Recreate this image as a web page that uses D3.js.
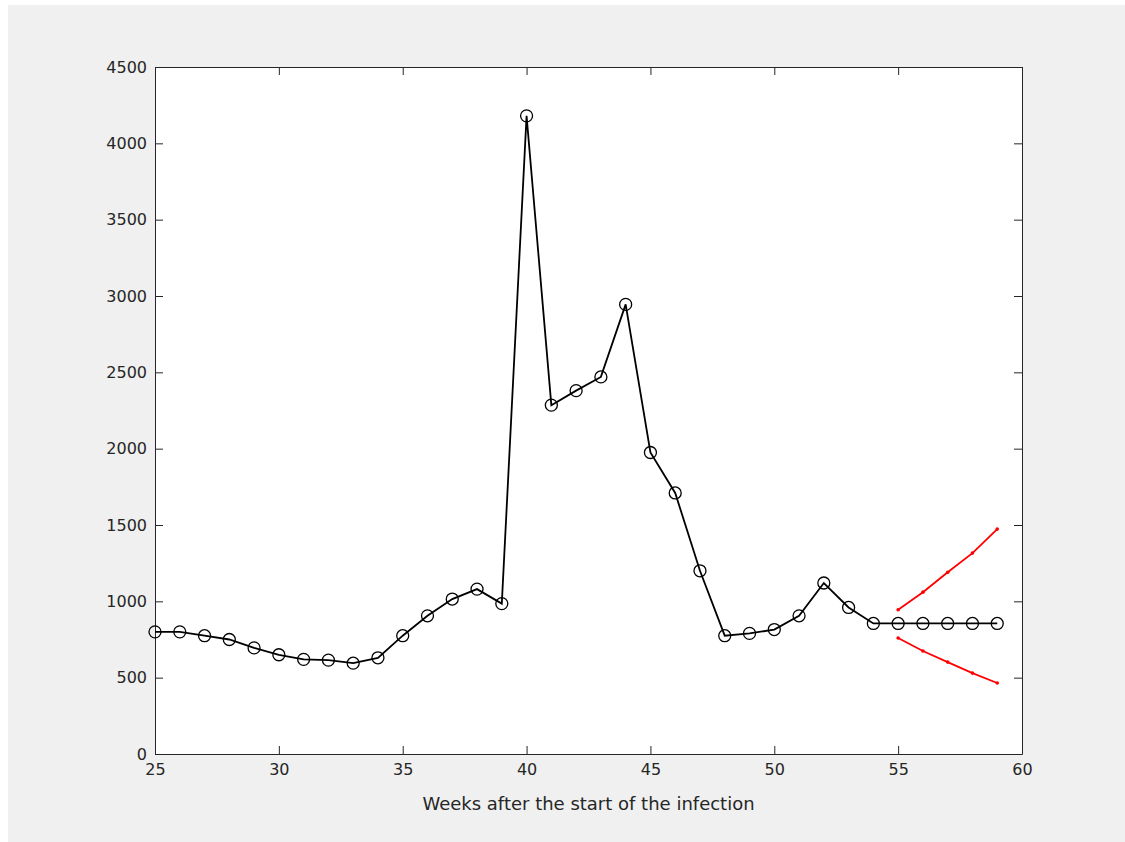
<!DOCTYPE html><html><head><script src="https://d3js.org/d3.v7.min.js"></script>
<style>body{margin:0;background:#fff}</style></head><body><script>
const weeks=[25,26,27,28,29,30,31,32,33,34,35,36,37,38,39,40,41,42,43,44,45,46,47,48,49,50,51,52,53,54,55,56,57,58,59];
const cases=[800,800,775,750,695,650,620,615,595,630,775,905,1015,1080,985,4180,2285,2380,2470,2945,1975,1710,1200,775,790,815,905,1120,960,855,855,855,855,855,855];
const fcWeeks=[55,56,57,58,59];
const upper=[945,1060,1190,1316,1473];
const lower=[760,675,602,530,465];
const xTicks=[25,30,35,40,45,50,55,60];
const yTicks=[0,500,1000,1500,2000,2500,3000,3500,4000,4500];
const W=1125,H=842,m={l:155,t:67,r:1022,b:754};
const svg=d3.select("body").append("svg").attr("width",W).attr("height",H);
svg.append("rect").attr("x",8).attr("y",5).attr("width",1117).attr("height",837).attr("fill","#f0f0f0");
svg.append("rect").attr("x",m.l).attr("y",m.t).attr("width",m.r-m.l).attr("height",m.b-m.t).attr("fill","#fff");
const x=d3.scaleLinear().domain([25,60]).range([m.l,m.r]);
const y=d3.scaleLinear().domain([0,4500]).range([m.b,m.t]);
const f=d3.format("d");
const ax=svg.append("g").attr("transform",`translate(0,${m.b})`).call(d3.axisBottom(x).tickValues(xTicks).tickFormat(f).tickSizeInner(-8).tickSizeOuter(0).tickPadding(10));
const ax2=svg.append("g").attr("transform",`translate(0,${m.t})`).call(d3.axisTop(x).tickValues(xTicks).tickSizeInner(-8).tickSizeOuter(0).tickFormat(""));
const ay=svg.append("g").attr("transform",`translate(${m.l},0)`).call(d3.axisLeft(y).tickValues(yTicks).tickFormat(f).tickSizeInner(-8).tickSizeOuter(0).tickPadding(8));
const ay2=svg.append("g").attr("transform",`translate(${m.r},0)`).call(d3.axisRight(y).tickValues(yTicks).tickSizeInner(-8).tickSizeOuter(0).tickFormat(""));
[ax,ax2,ay,ay2].forEach(g=>{g.attr("font-family","DejaVu Sans, sans-serif").attr("font-size",16);g.selectAll("path,line").attr("stroke","#262626");g.selectAll("text").attr("fill","#262626");});
svg.append("text").attr("x",(m.l+m.r)/2).attr("y",810).attr("text-anchor","middle").attr("fill","#262626").attr("font-family","DejaVu Sans, sans-serif").attr("font-size",18).text("Weeks after the start of the infection");
const line=d3.line().x(d=>x(d[0])).y(d=>y(d[1]));
svg.append("path").attr("d",line(weeks.map((w,i)=>[w,cases[i]]))).attr("fill","none").attr("stroke","#000").attr("stroke-width",1.8);
svg.selectAll("circle.c").data(weeks).enter().append("circle").attr("cx",d=>x(d)).attr("cy",(d,i)=>y(cases[i])).attr("r",6).attr("fill","none").attr("stroke","#000").attr("stroke-width",1.3);
[upper,lower].forEach(s=>{
 const pts=fcWeeks.map((w,i)=>[w,s[i]]);
 svg.append("path").attr("d",line(pts)).attr("fill","none").attr("stroke","#ff0000").attr("stroke-width",1.8);
 svg.selectAll(null).data(pts).enter().append("circle").attr("cx",d=>x(d[0])).attr("cy",d=>y(d[1])).attr("r",1.8).attr("fill","#ff0000");
});
</script></body></html>
